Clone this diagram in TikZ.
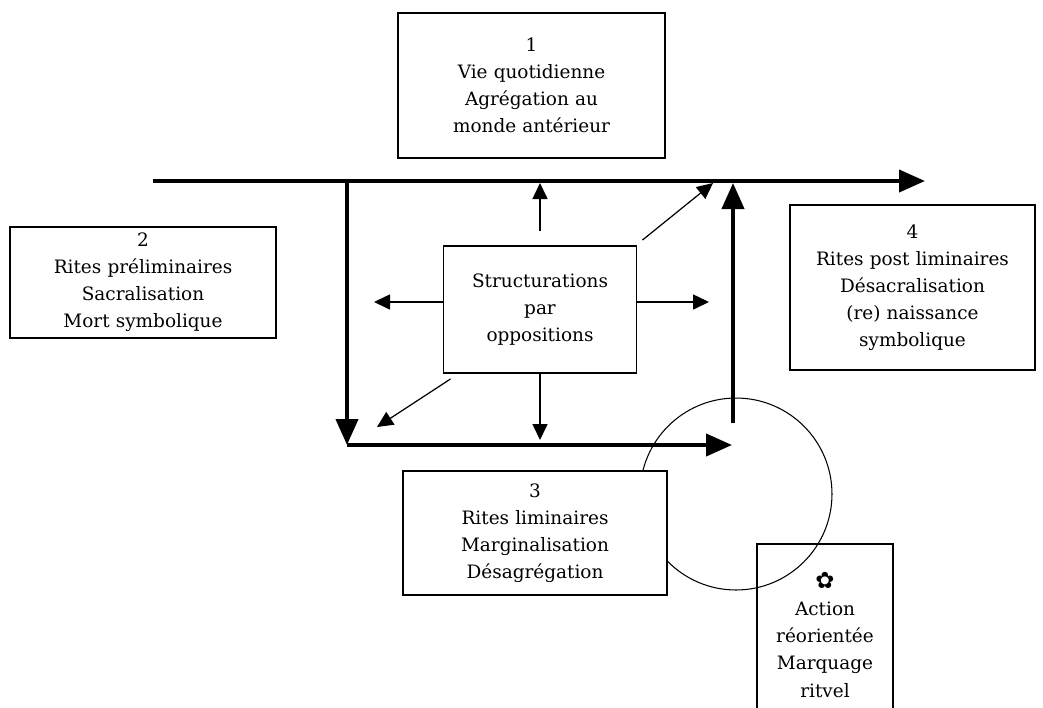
\documentclass[tikz,border=0pt]{standalone}
\usepackage{fontspec}
\setmainfont{DejaVu Serif}
\newfontfamily\symbole{DejaVu Sans}
\usepackage{tikz}
\usetikzlibrary{arrows.meta}
\tikzstyle{cadre} = [rectangle, draw=black, line width=1.1pt, fill=white, text centered, font=\fontsize{10.5}{15.4}\selectfont]
\tikzstyle{gros} = [line width=2.3pt, -{Triangle[length=0.52cm, width=0.44cm]}]
\tikzstyle{fin} = [line width=0.9pt, -{Triangle[length=0.32cm, width=0.3cm]}]

\begin{document}
\begin{tikzpicture}[x=0.02cm, y=-0.02cm]
        \useasboundingbox (0,0) rectangle (1043,707);

        \node (cercle) [circle, draw=black, line width=0.6pt, minimum size=3.84cm, inner sep=0pt] at (736,494) {};

        \node (vie) [cadre, minimum width=5.34cm, minimum height=2.9cm, text width=5cm] at (531.5,85.5) {1\\ Vie quotidienne\\ Agrégation au\\ monde antérieur};
        \node (prelim) [cadre, minimum width=5.32cm, minimum height=2.1cm, text width=5cm] at (143,282.5) {2\\ Rites préliminaires\\ Sacralisation\\ Mort symbolique};
        \node (postlim) [cadre, minimum width=4.9cm, minimum height=3.3cm, text width=4.6cm] at (912.5,287.5) {4\\ Rites post liminaires\\ Désacralisation\\ (re) naissance\\ symbolique};
        \node (centre) [cadre, minimum width=3.86cm, minimum height=2.54cm, text width=3.6cm] at (540,309.5) {Structurations\\ par\\ oppositions};
        \node (lim) [cadre, minimum width=5.28cm, minimum height=2.48cm, text width=5cm] at (535,533) {3\\ Rites liminaires\\ Marginalisation\\ Désagrégation};
        \node (action) [cadre, fill=none, anchor=north, minimum width=2.72cm, minimum height=3.64cm, text width=2.5cm] at (825,543) {{\symbole\fontsize{13}{15.4}\selectfont ✿}\\ Action\\ réorientée\\ Marquage\\ ritvel};

        \coordinate (debut) at (153,181);
        \coordinate (fin) at (925,181);
        \coordinate (coinhaut) at (347,181);
        \coordinate (coinbas) at (347,445);
        \coordinate (finbas) at (732,445);
        \coordinate (montee) at (733,423);
        \coordinate (arrivee) at (733,183);

        \draw[gros] (debut) -- (fin);
        \draw[gros] (coinhaut) -- (coinbas);
        \draw[gros] (coinbas) -- (finbas);
        \draw[gros] (montee) -- (arrivee);

        \coordinate (haut) at (540,183);
        \coordinate (gauche) at (374,302);
        \coordinate (droite) at (709,302);
        \coordinate (bas) at (540,440);
        \coordinate (diaghaut) at (713,183);
        \coordinate (diagbas) at (377,427);

        \draw[fin, shorten <=0.28cm] (centre.north) -- (haut);
        \draw[fin] (gauche -| centre.west) -- (gauche);
        \draw[fin] (droite -| centre.east) -- (droite);
        \draw[fin] (centre.south) -- (bas);
        \draw[fin, line width=0.7pt] ([shift={(5,-5)}]centre.north east) -- (diaghaut);
        \draw[fin, line width=0.7pt] ([shift={(8,5)}]centre.south west) -- (diagbas);

    \end{tikzpicture}
\end{document}
